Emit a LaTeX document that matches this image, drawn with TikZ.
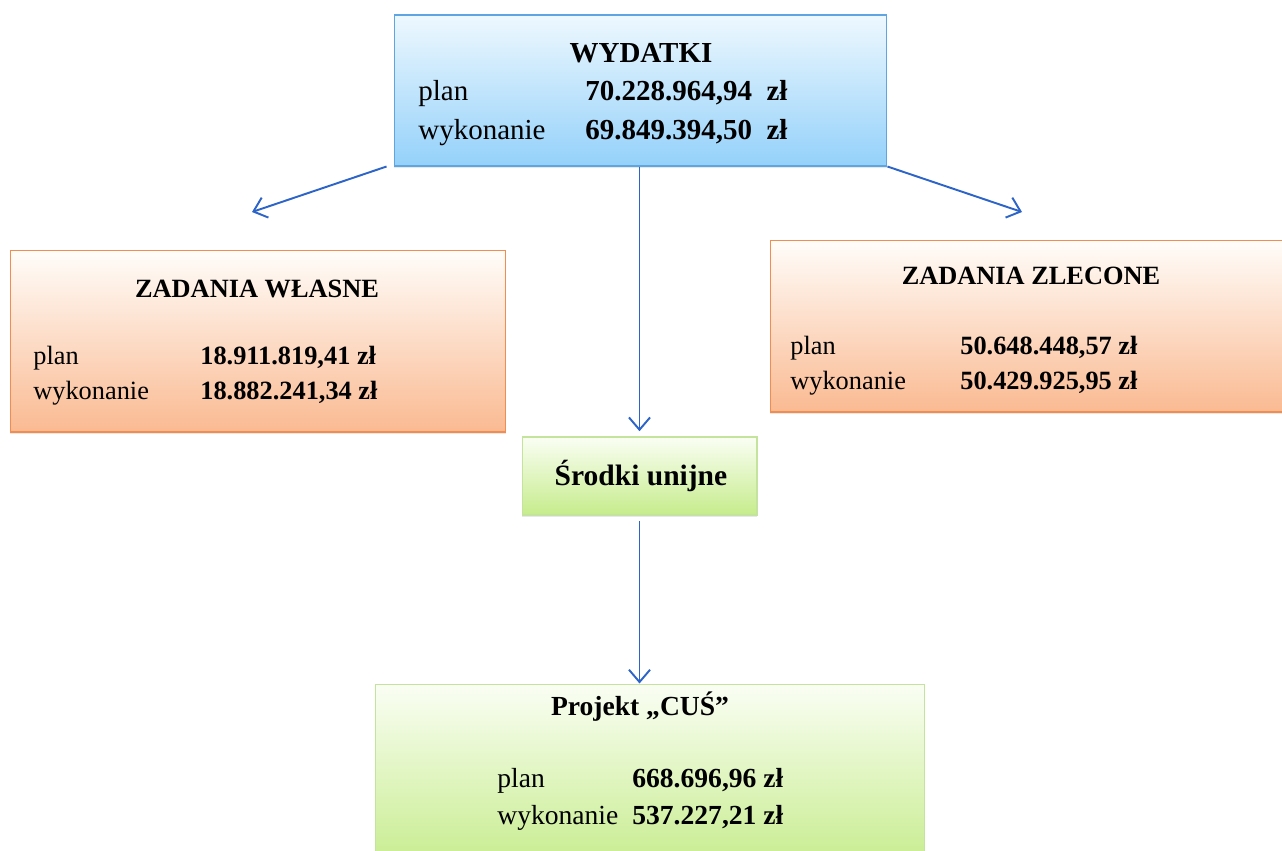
\documentclass[tikz,border=0pt]{standalone}
\usepackage{fontspec}
\setmainfont{Liberation Serif}
\usetikzlibrary{arrows.meta,shadows}

\definecolor{wydTop}{RGB}{238,248,254}
\definecolor{wydBlue}{RGB}{148,209,250}
\definecolor{wydLine}{RGB}{95,165,225}
\definecolor{zadTop}{RGB}{255,253,250}
\definecolor{zadOrange}{RGB}{250,186,146}
\definecolor{zadLine}{RGB}{242,140,80}
\definecolor{uniTop}{RGB}{250,254,244}
\definecolor{uniGreen}{RGB}{198,236,140}
\definecolor{uniLine}{RGB}{196,228,158}
\definecolor{arrowBlue}{RGB}{45,100,200}

\tikzset{
    box/.style={draw, line width=0.6pt, inner sep=0pt,
        drop shadow={shadow xshift=0pt, shadow yshift=-1.2pt, opacity=0.18}},
    bluebox/.style={box, draw=wydLine, top color=wydTop, bottom color=wydBlue},
    orangebox/.style={box, draw=zadLine, top color=zadTop, bottom color=zadOrange},
    greenbox/.style={box, draw=uniLine, top color=uniTop, bottom color=uniGreen},
    head/.style={anchor=base, inner sep=0pt, font=\bfseries},
    lbl/.style={anchor=base west, inner sep=0pt},
    val/.style={anchor=base west, inner sep=0pt, font=\bfseries},
    arr/.style={draw=arrowBlue, line width=1.1pt, -{Straight Barb[length=7pt, width=12pt]}}
}

\begin{document}
\begin{tikzpicture}[x=0.02cm, y=-0.02cm]
    \useasboundingbox (0,0) rectangle (1282,850);
    \clip (0,0) rectangle (1282,850);

    % Boxes
    \node[bluebox, minimum width=9.86cm, minimum height=3.02cm] (wyd) at (640.5,90.5) {};
    \node[orangebox, minimum width=9.92cm, minimum height=3.64cm] (wlasne) at (258,341) {};
    \node[orangebox, minimum width=10.5cm, minimum height=3.44cm] (zlecone) at (1032.5,326) {};
    \node[greenbox, minimum width=4.7cm, minimum height=1.56cm] (unijne) at (639.5,476) {};
    \node[greenbox, minimum width=11cm, minimum height=3.72cm] (cus) at (650,777) {};

    % Headings
    \node[head, node font=\fontsize{16.5}{19}\selectfont] (wydHead) at (641,62) {WYDATKI};
    \node[head, node font=\fontsize{15}{18}\selectfont] (wlasneHead) at (257,297) {ZADANIA WŁASNE};
    \node[head, node font=\fontsize{15}{18}\selectfont] (zleconeHead) at (1031,284) {ZADANIA ZLECONE};
    \node[head, node font=\fontsize{16.8}{19}\selectfont] (unijneHead) at (641,485) {Środki unijne};
    \node[head, node font=\fontsize{15.7}{19}\selectfont] (cusHead) at (640,715) {Projekt „CUŚ”};

    % Rows: plan / wykonanie
    \foreach \nm/\fs/\lx/\vx/\py/\wy/\pv/\wv in {
        {wyd/16.5/418/585/100/139/70.228.964,94~~zł/69.849.394,50~~zł},
        {wlasne/15/33/200/364/399/18.911.819,41 zł/18.882.241,34 zł},
        {zlecone/15/790/960/354/389/50.648.448,57 zł/50.429.925,95 zł},
        {cus/15.7/497/632/787/824/668.696,96 zł/537.227,21 zł}} {
        \begin{scope}[node font=\fontsize{\fs}{\fs}\selectfont]
            \node[lbl] (\nm-plan) at (\lx,\py) {plan};
            \node[val] (\nm-planval) at (\vx,\py) {\pv};
            \node[lbl] (\nm-wyk) at (\lx,\wy) {wykonanie};
            \node[val] (\nm-wykval) at (\vx,\wy) {\wv};
        \end{scope}
    }

    % Arrows
    \coordinate (lTip) at (252,212);
    \coordinate (rTip) at (1022,212);
    \draw[arr] ([xshift=-0.14cm]wyd.south west) -- (lTip);
    \draw[arr] (wyd.south east) -- (rTip);
    \draw[arr, shorten >=3pt] (unijne.north |- wyd.south) -- (unijne.north);
    \draw[arr, shorten <=3pt] (unijne.south) -- (unijne.south |- cus.north);
\end{tikzpicture}
\end{document}
